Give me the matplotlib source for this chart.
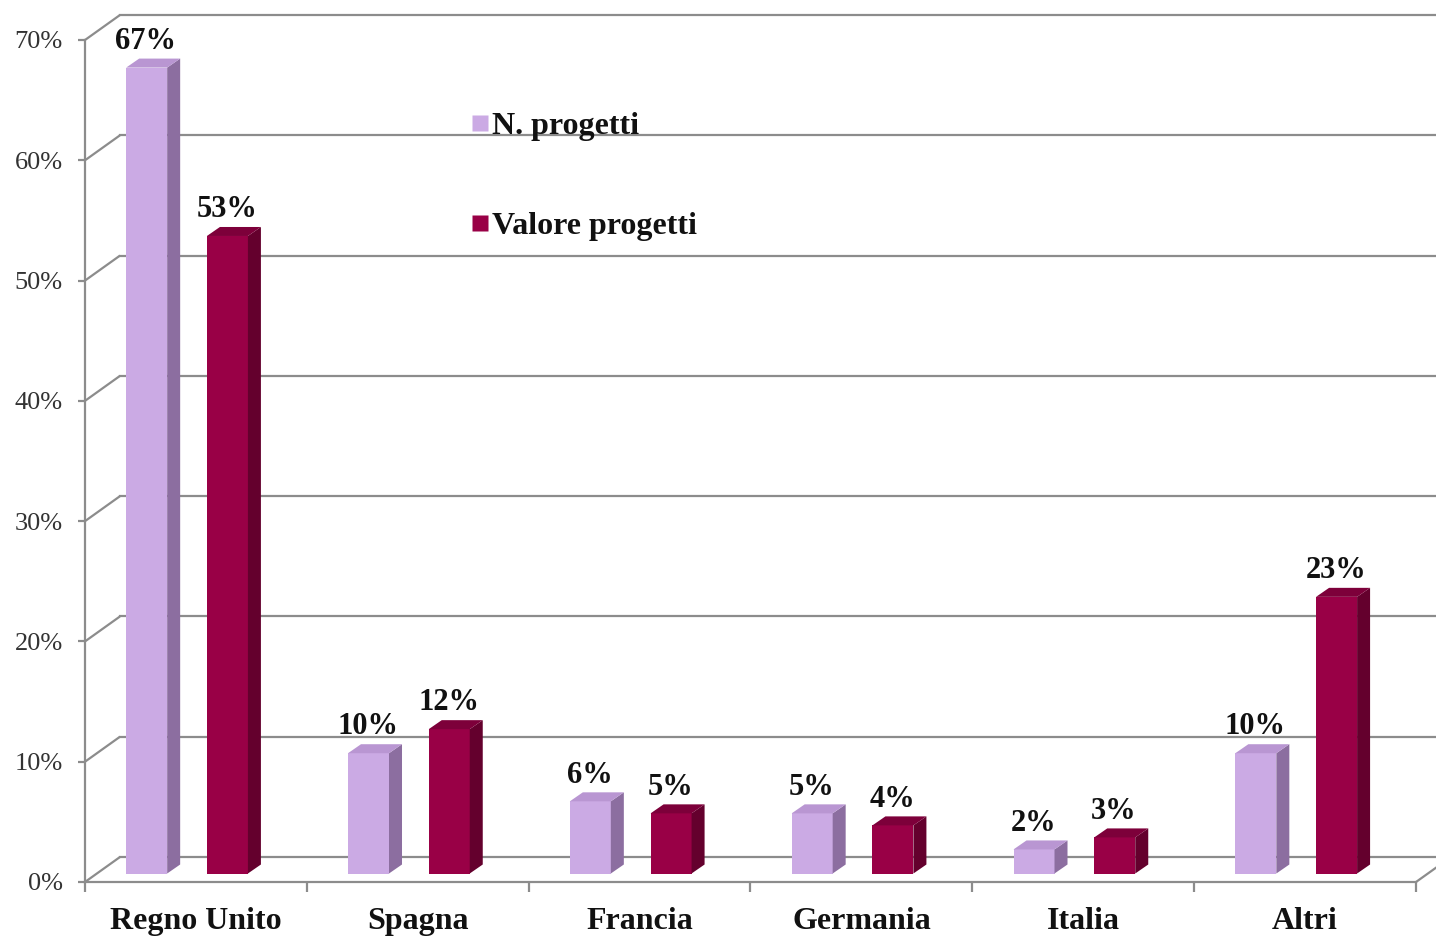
import matplotlib
matplotlib.use("Agg")
import matplotlib.pyplot as plt
from matplotlib.patches import Polygon
from matplotlib.lines import Line2D
from matplotlib.transforms import offset_copy

# ---- data ----
categories = ["Regno Unito", "Spagna", "Francia", "Germania", "Italia", "Altri"]
n_progetti = [67, 10, 6, 5, 2, 10]
valore_progetti = [53, 12, 5, 4, 3, 23]
series_labels = ["N. progetti", "Valore progetti"]
ytick_values = [0, 10, 20, 30, 40, 50, 60, 70]
ytick_labels = ["0%", "10%", "20%", "30%", "40%", "50%", "60%", "70%"]

# ---- style ----
serif = ["Liberation Serif", "DejaVu Serif"]
grid_col = "#8c8c8c"
lilac = dict(front="#cbaae4", side="#8c6ea0", top="#b996d2")
wine = dict(front="#990046", side="#64002d", top="#7d003a")

W, H = 1436, 936
fig = plt.figure(figsize=(W / 100, H / 100), dpi=100)
ax = fig.add_axes([85 / W, 54 / H, (1416 - 85) / W, (882 - 40) / H])
ax.set_xlim(-0.5, len(categories) - 0.5)
ax.set_ylim(0, 70)

px_x = (1416 - 85) / len(categories)   # pixels per x unit
px_y = (882 - 40) / 70.0               # pixels per % unit

# depth of the back wall
wall_dx, wall_dy = 35 / px_x, 25 / px_y
# depth of a bar (top/side faces)
bar_dx, bar_dy = 13 / px_x, 9 / px_y
bar_w = 41 / px_x
offsets = [-0.222, 0.142]

# back wall grid + left wall diagonals
x_left, x_right = -0.5, len(categories) - 0.5
for t in ytick_values:
    ax.plot([x_left, x_left + wall_dx], [t, t + wall_dy], color=grid_col, lw=1.6,
            clip_on=False, zorder=1, solid_capstyle="butt")
    ax.plot([x_left + wall_dx, x_right + wall_dx + 0.2], [t + wall_dy, t + wall_dy],
            color=grid_col, lw=1.6, clip_on=False, zorder=1)
# floor right diagonal
ax.plot([x_right, x_right + wall_dx], [0, wall_dy], color=grid_col, lw=1.6,
        clip_on=False, zorder=1)

# bars sit slightly behind the front plane
bar_tr = offset_copy(ax.transData, fig=fig, x=0, y=8.5, units="dots")

for s, (vals, col) in enumerate([(n_progetti, lilac), (valore_progetti, wine)]):
    xs = [i + offsets[s] for i in range(len(categories))]
    bars = ax.bar(xs, vals, width=bar_w, color=col["front"], transform=bar_tr,
                  zorder=3, linewidth=0, clip_on=False)
    for b, v in zip(bars, vals):
        x0 = b.get_x()
        x1 = x0 + b.get_width()
        side = Polygon([(x1, 0), (x1, v), (x1 + bar_dx, v + bar_dy), (x1 + bar_dx, bar_dy)],
                       closed=True, facecolor=col["side"], edgecolor="none",
                       transform=bar_tr, zorder=3, clip_on=False)
        top = Polygon([(x0, v), (x1, v), (x1 + bar_dx, v + bar_dy), (x0 + bar_dx, v + bar_dy)],
                      closed=True, facecolor=col["top"], edgecolor="none",
                      transform=bar_tr, zorder=3, clip_on=False)
        ax.add_patch(side)
        ax.add_patch(top)
        ax.annotate(f"{v}%", xy=(x0 + b.get_width() / 2, v), xycoords=bar_tr,
                    xytext=(-0.5, 13.5), textcoords="offset points",
                    ha="center", va="baseline", fontsize=22, fontweight="bold",
                    family=serif, color="#111111", zorder=5, annotation_clip=False)

# axes styling
for sp in ["top", "right"]:
    ax.spines[sp].set_visible(False)
for sp in ["left", "bottom"]:
    ax.spines[sp].set_color(grid_col)
    ax.spines[sp].set_linewidth(1.6)
    ax.spines[sp].set_zorder(4)

ax.set_yticks(ytick_values)
ax.set_yticklabels(ytick_labels, family=serif, fontsize=19, color="#333333")
ax.tick_params(axis="y", direction="out", length=5, width=1.6, color=grid_col, pad=11)

ax.set_xticks([i - 0.5 for i in range(len(categories) + 1)])
ax.set_xticklabels([])
ax.tick_params(axis="x", which="major", direction="out", length=7, width=1.6, color=grid_col)
ax.set_xticks(range(len(categories)), minor=True)
ax.set_xticklabels(categories, minor=True, family=serif, fontsize=23,
                   fontweight="bold", color="#111111")
ax.tick_params(axis="x", which="minor", length=0, pad=18)

# legend
handles = [Line2D([], [], marker="s", linestyle="none", markersize=11,
                  markerfacecolor=c["front"], markeredgecolor="none")
           for c in (lilac, wine)]
leg = ax.legend(handles, series_labels, loc="upper left",
                bbox_to_anchor=(455 / W, 1 - 96 / H), bbox_transform=fig.transFigure,
                frameon=False, handlelength=0.55, handletextpad=0.12,
                labelspacing=2.2, borderpad=0,
                prop=dict(family=serif, size=23, weight="bold"))
for t in leg.get_texts():
    t.set_color("#111111")

fig.savefig("out.png", dpi=100)
